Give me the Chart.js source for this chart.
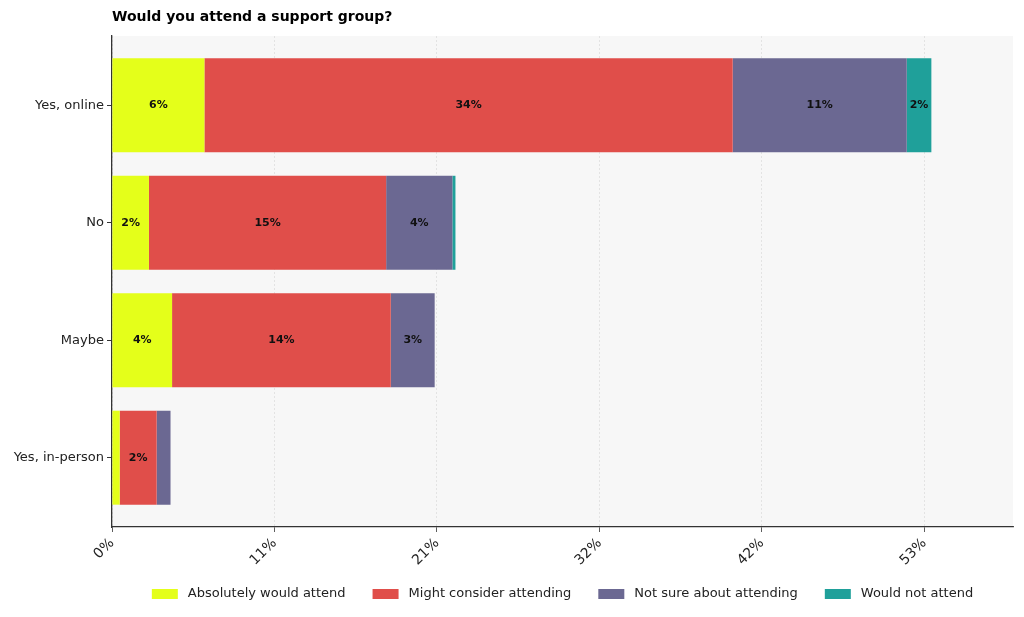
<!DOCTYPE html>
<html>
<head>
<meta charset="utf-8">
<script src="https://cdn.jsdelivr.net/npm/chart.js@4/dist/chart.umd.min.js"></script>
<style>
  html, body { margin: 0; padding: 0; background: #fff; }
  #wrap { width: 1024px; height: 617px; }
</style>
</head>
<body>
<div id="wrap"><canvas id="c"></canvas></div>
<script>
// categories, top to bottom
const categories = ['Yes, online', 'No', 'Maybe', 'Yes, in-person'];

// share of all answers (%)
const absolutely = [6.0, 2.4, 3.9, 0.5];
const mightConsider = [34.3, 15.4, 14.2, 2.4];
const notSure = [11.3, 4.3, 2.85, 0.9];
const wouldNot = [1.6, 0.2, 0, 0];

const seriesNames = ['Absolutely would attend', 'Might consider attending', 'Not sure about attending', 'Would not attend'];
const seriesColors = ['#e4ff1a', '#e04e4a', '#6b6892', '#1fa09a'];

const xTickValues = [0, 10.55, 21.1, 31.65, 42.2, 52.75];
const xTickLabels = ['0%', '11%', '21%', '32%', '42%', '53%'];

const font = 'DejaVu Sans';
const allSeries = [absolutely, mightConsider, notSure, wouldNot];

const datasets = allSeries.map((vals, s) => ({
    label: seriesNames[s],
    data: vals.map((v, i) => ({ x: v, y: i })),
    backgroundColor: seriesColors[s],
    borderWidth: 0,
    barPercentage: 0.8,
    categoryPercentage: 1
}));

// grey plot area
const plotBg = {
    id: 'plotBg',
    beforeDraw(chart) {
        const a = chart.chartArea, ctx = chart.ctx;
        ctx.save();
        ctx.fillStyle = '#f7f7f7';
        ctx.fillRect(a.left, a.top, a.right - a.left, a.bottom - a.top);
        ctx.restore();
    }
};

// percent labels inside the segments, title and legend row
const barText = {
    id: 'barText',
    afterDatasetsDraw(chart) {
        const ctx = chart.ctx;
        ctx.save();
        ctx.font = 'bold 11px "' + font + '"';
        ctx.fillStyle = '#111';
        ctx.textAlign = 'center';
        ctx.textBaseline = 'middle';
        chart.data.datasets.forEach((ds, d) => {
            chart.getDatasetMeta(d).data.forEach((bar, i) => {
                const v = ds.data[i].x;
                if (v < 1.5) return;
                ctx.fillText(Math.round(v) + '%', (bar.x + bar.base) / 2, bar.y);
            });
        });
        ctx.restore();
    },
    afterDraw(chart) {
        const ctx = chart.ctx, a = chart.chartArea;
        ctx.save();
        ctx.font = 'bold 14px "' + font + '"';
        ctx.textAlign = 'left';
        ctx.textBaseline = 'middle';
        ctx.fillStyle = '#000';
        ctx.fillText('Would you attend a support group?', a.left, 17);

        // legend, centred under the plot area
        ctx.font = '13px "' + font + '"';
        const boxW = 26, boxH = 10, gap = 10, space = 27;
        const widths = seriesNames.map(n => boxW + gap + ctx.measureText(n).width);
        const total = widths.reduce((s, w) => s + w, 0) + space * (widths.length - 1);
        let x = (a.left + a.right) / 2 - total / 2;
        const y = 594;
        seriesNames.forEach((n, i) => {
            ctx.fillStyle = seriesColors[i];
            ctx.fillRect(x, y - boxH / 2, boxW, boxH);
            ctx.fillStyle = '#222';
            ctx.fillText(n, x + boxW + gap, y);
            x += widths[i] + space;
        });
        ctx.restore();
    }
};

new Chart(document.getElementById('c'), {
    type: 'bar',
    data: { datasets },
    plugins: [plotBg, barText],
    options: {
        indexAxis: 'y',
        responsive: true,
        maintainAspectRatio: false,
        animation: false,
        layout: { padding: { top: 36, right: 11, left: 0, bottom: 47 } },
        plugins: {
            legend: { display: false },
            tooltip: { enabled: false }
        },
        scales: {
            x: {
                type: 'linear', stacked: true, min: 0, max: 58.5,
                afterBuildTicks: s => { s.ticks = xTickValues.map(v => ({ value: v })); },
                afterFit: s => { s.height = 43; },
                ticks: {
                    minRotation: 45, maxRotation: 45, padding: 3,
                    color: '#222', font: { family: font, size: 14 },
                    callback: (v, i) => xTickLabels[i]
                },
                grid: { color: '#dddddd', tickColor: '#333', tickLength: 5, lineWidth: 0.8 },
                border: { color: '#333', width: 1.3, dash: [2, 2] }
            },
            y: {
                type: 'linear', stacked: true, reverse: true, min: -0.59, max: 3.59,
                offset: false,
                afterBuildTicks: s => { s.ticks = categories.map((c, i) => ({ value: i })); },
                afterFit: s => { s.width = 112; },
                ticks: {
                    padding: 3, color: '#222', font: { family: font, size: 13 },
                    callback: v => categories[v]
                },
                grid: { offset: false, drawOnChartArea: false, tickColor: '#333', tickLength: 5 },
                border: { color: '#333', width: 1.3 }
            }
        }
    }
});
</script>
</body>
</html>
